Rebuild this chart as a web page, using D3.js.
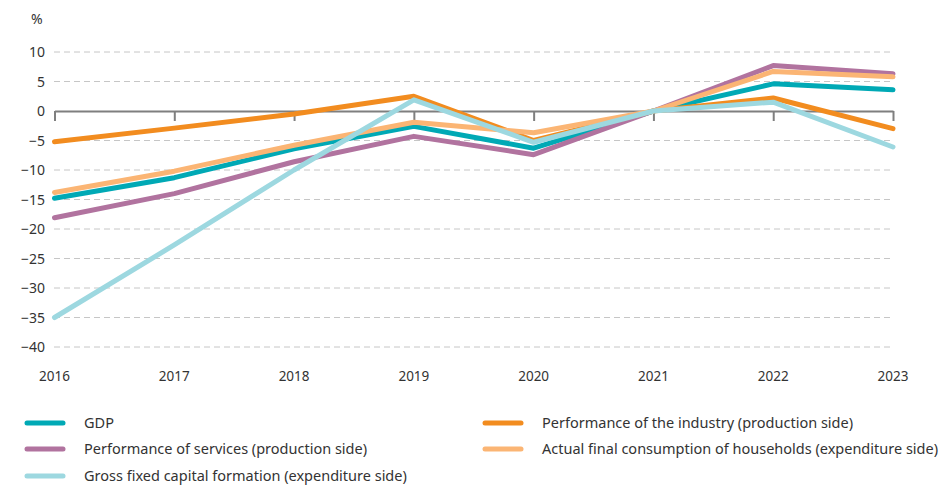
<!DOCTYPE html>
<html>
<head>
<meta charset="utf-8">
<script src="https://cdn.jsdelivr.net/npm/d3@7"></script>
<style>
  body { margin: 0; background: #fff; }
  text { font-family: "Noto Sans", "Open Sans", sans-serif; fill: #333; }
</style>
</head>
<body>
<script>
'use strict';
// data (% change)
const years = [2016, 2017, 2018, 2019, 2020, 2021, 2022, 2023];
const gdp = [-14.8, -11.3, -6.4, -2.6, -6.3, 0, 4.6, 3.6];
const industry = [-5.2, -2.9, -0.5, 2.5, -5.0, 0, 2.2, -3.0];
const services = [-18.1, -14.0, -8.6, -4.3, -7.4, 0, 7.7, 6.3];
const consumption = [-13.8, -10.2, -5.8, -1.9, -3.7, 0, 6.7, 5.8];
const gfcf = [-35.0, -22.7, -10.0, 1.9, -5.3, 0, 1.5, -6.1];
const yTicks = [10, 5, 0, -5, -10, -15, -20, -25, -30, -35, -40];

const seriesNames = [
  "GDP",
  "Performance of the industry (production side)",
  "Performance of services (production side)",
  "Actual final consumption of households (expenditure side)",
  "Gross fixed capital formation (expenditure side)"
];
const seriesColors = ["#00a9b5", "#f28c1f", "#b1739f", "#fbb574", "#9dd8e0"];
const seriesValues = [gdp, industry, services, consumption, gfcf];

(function() {
  let svg = d3.select('body').append('svg')
    .attr('width', 943)
    .attr('height', 486);

  let xScale = d3.scaleLinear()
    .domain([2016, 2023])
    .range([54.5, 893]);

  let yScale = d3.scaleLinear()
    .domain([10, -40])
    .range([52, 347]);

  // dashed gridlines
  svg.append('g').selectAll('line')
    .data(yTicks.filter(d => d !== 0))
    .enter()
    .append('line')
      .attr('x1', 54)
      .attr('x2', 893)
      .attr('y1', d => yScale(d))
      .attr('y2', d => yScale(d))
      .attr('stroke', '#c6c6c6')
      .attr('stroke-width', 1)
      .attr('stroke-dasharray', '6,4');

  // y labels
  svg.append('g').selectAll('text')
    .data(yTicks)
    .enter()
    .append('text')
      .attr('x', 45)
      .attr('y', d => yScale(d) + 5)
      .attr('text-anchor', 'end')
      .style('font-size', '14px')
      .text(d => d < 0 ? '\u2212' + Math.abs(d) : d);

  svg.append('text')
    .attr('x', 31)
    .attr('y', 24)
    .style('font-size', '14px')
    .text('%');

  // zero axis with year ticks
  let xAxis = d3.axisBottom(xScale)
    .tickValues(years)
    .tickSize(10)
    .tickSizeOuter(0)
    .tickFormat('');
  let axisG = svg.append('g')
    .attr('transform', 'translate(0,' + yScale(0) + ')')
    .call(xAxis);
  axisG.selectAll('line, path')
    .attr('stroke', '#7f7f7f')
    .attr('stroke-width', 2);

  // year labels
  svg.append('g').selectAll('text')
    .data(years)
    .enter()
    .append('text')
      .attr('x', d => xScale(d))
      .attr('y', 381)
      .attr('text-anchor', 'middle')
      .style('font-size', '13.5px')
      .text(d => d);

  // lines
  let line = d3.line()
    .x((d, i) => xScale(years[i]))
    .y(d => yScale(d));

  let order = [0, 2, 1, 3, 4];
  order.forEach(function(k) {
    svg.append('path')
      .datum(seriesValues[k])
      .attr('d', line)
      .attr('fill', 'none')
      .attr('stroke', seriesColors[k])
      .attr('stroke-width', 5)
      .attr('stroke-linejoin', 'round')
      .attr('stroke-linecap', 'round');
  });

  // legend
  let legendPos = [
    {x: 25, y: 423},
    {x: 483, y: 423},
    {x: 25, y: 449},
    {x: 483, y: 449},
    {x: 25, y: 476}
  ];
  seriesNames.forEach(function(name, k) {
    let p = legendPos[k];
    svg.append('line')
      .attr('x1', p.x + 2)
      .attr('x2', p.x + 38)
      .attr('y1', p.y)
      .attr('y2', p.y)
      .attr('stroke', seriesColors[k])
      .attr('stroke-width', 5)
      .attr('stroke-linecap', 'round');
    svg.append('text')
      .attr('x', p.x + 59)
      .attr('y', p.y + 5)
      .style('font-size', '14.5px')
      .text(name);
  });
})();
</script>
</body>
</html>
